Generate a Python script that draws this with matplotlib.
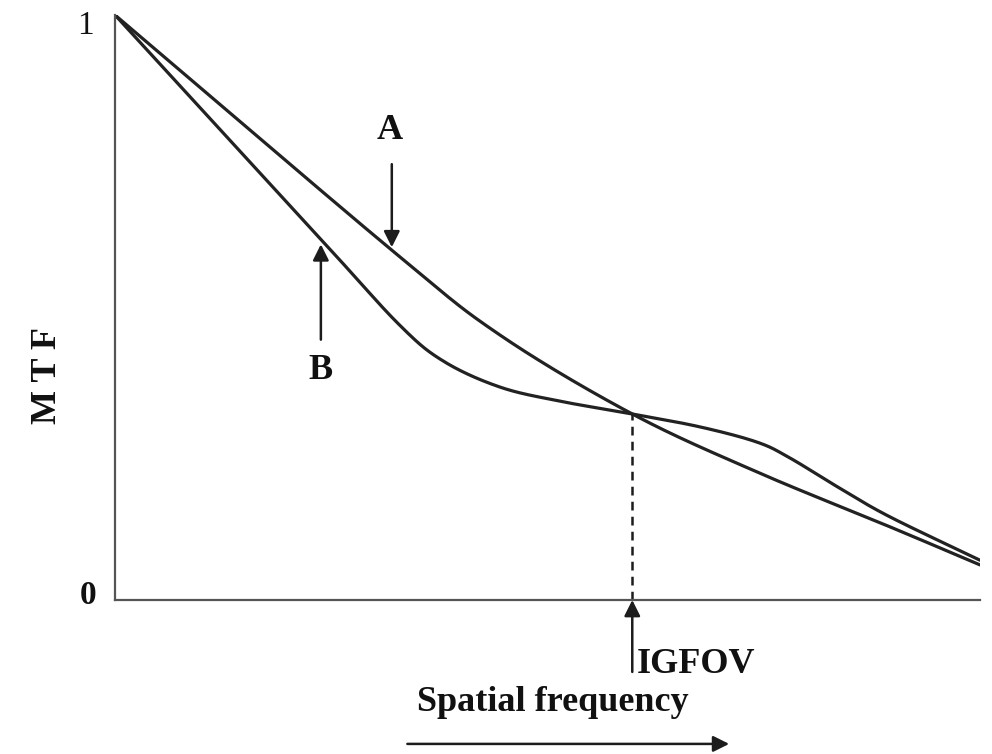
import numpy as np
import matplotlib.pyplot as plt

plt.rcParams['font.family'] = ['Liberation Serif', 'DejaVu Serif']

# MTF curves as (spatial frequency, MTF), both normalised to 0..1
freq_a = [0.0, 0.320, 0.445, 0.598, 0.742, 0.896, 1.0]
mtf_a = [1.0, 0.598, 0.453, 0.318, 0.219, 0.125, 0.060]

freq_b = [0.0, 0.239, 0.329, 0.380, 0.445, 0.514, 0.598, 0.676, 0.742,
          0.780, 0.838, 0.896, 1.0]
mtf_b = [1.0, 0.615, 0.470, 0.408, 0.364, 0.340, 0.318, 0.296, 0.270,
         0.243, 0.191, 0.142, 0.068]

igfov = 0.598
igfov_mtf = 0.318


def smooth(xs, ys, n=40):
    # Catmull-Rom spline through the given points
    p = np.column_stack([xs, ys])
    p = np.vstack([2 * p[0] - p[1], p, 2 * p[-1] - p[-2]])
    out = []
    t = np.linspace(0, 1, n, endpoint=False)[:, None]
    for i in range(1, len(p) - 2):
        p0, p1, p2, p3 = p[i - 1], p[i], p[i + 1], p[i + 2]
        seg = 0.5 * ((2 * p1) + (-p0 + p2) * t +
                     (2 * p0 - 5 * p1 + 4 * p2 - p3) * t ** 2 +
                     (-p0 + 3 * p1 - 3 * p2 + p3) * t ** 3)
        out.append(seg)
    out.append(p[-2][None, :])
    out = np.vstack(out)
    return out[:, 0], out[:, 1]


W, H = 992, 754
fig = plt.figure(figsize=(W / 100, H / 100), dpi=100)
ax = fig.add_axes([115 / W, (H - 600) / H, 865 / W, 585 / H])
ax.set_xlim(0, 1)
ax.set_ylim(0, 1)

line_kw = dict(color='#222222', lw=2.3, solid_capstyle='round')
ax.plot(*smooth(freq_a, mtf_a), **line_kw)
ax.plot(*smooth(freq_b, mtf_b), **line_kw)

ax.plot([igfov, igfov], [0, igfov_mtf], color='#1c1c1c', lw=1.8,
        linestyle=(0, (3.5, 2.5)))

for side in ('top', 'right'):
    ax.spines[side].set_visible(False)
for side in ('left', 'bottom'):
    ax.spines[side].set_color('#555555')
    ax.spines[side].set_linewidth(1.6)
ax.set_xticks([])
ax.set_yticks([])

bold = dict(fontweight='bold', color='#111111')
ax.text(-0.024, 0.982, '1', fontsize=24, ha='right', va='center', color='#111111')
ax.text(-0.022, 0.008, '0', fontsize=24, ha='right', va='center', **bold)
ax.text(-0.078, 0.383, 'M T F', fontsize=26, rotation=90, ha='center',
        va='center', **bold)

arrow = dict(arrowstyle='-|>', color='#1c1c1c', lw=1.8, mutation_scale=24,
             shrinkA=0, shrinkB=0)

# arrow for curve A
ax.annotate('', xy=(0.320, 0.603), xytext=(0.320, 0.745), arrowprops=arrow)
ax.text(0.318, 0.803, 'A', fontsize=26, ha='center', va='center', **bold)

# arrow for curve B
ax.annotate('', xy=(0.238, 0.608), xytext=(0.238, 0.445), arrowprops=arrow)
ax.text(0.237, 0.393, 'B', fontsize=26, ha='center', va='center', **bold)

# IGFOV marker below the axis
ax.annotate('', xy=(igfov, 0.0), xytext=(igfov, -0.123), arrowprops=arrow,
            annotation_clip=False)
ax.text(igfov + 0.005, -0.111, 'IGFOV', fontsize=26, ha='left', va='center',
        clip_on=False, **bold)

ax.text(0.506, -0.176, 'Spatial frequency', fontsize=26, ha='center',
        va='center', clip_on=False, **bold)
ax.annotate('', xy=(0.710, -0.246), xytext=(0.338, -0.246), arrowprops=arrow,
            annotation_clip=False)

fig.savefig('out.png', dpi=100, facecolor='white')
